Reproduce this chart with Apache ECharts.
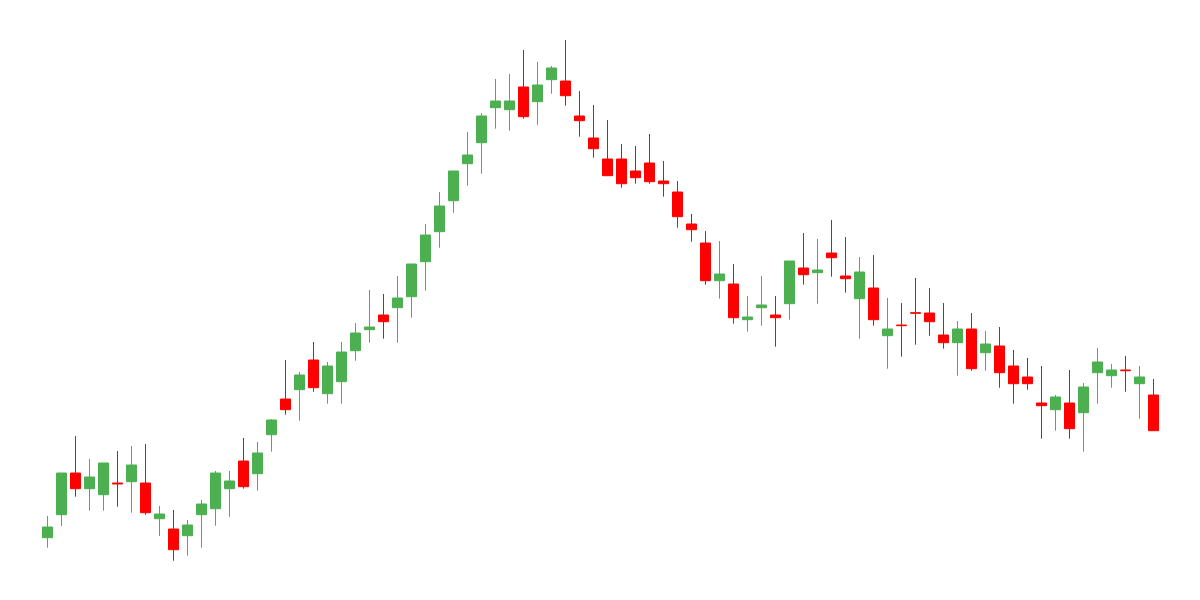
<!DOCTYPE html>
<html>
<head>
<meta charset="utf-8">
<style>html,body{margin:0;padding:0;background:#fff;}#chart{width:1200px;height:600px;}</style>
<script src="https://cdn.jsdelivr.net/npm/echarts@6/dist/echarts.min.js"></script>
</head>
<body>
<div id="chart"></div>
<script>
// Candle values (arbitrary price units, axes hidden in reference)
const opens = [62.3,85.3,127,111.3,105.3,117,118.3,117,81.3,71,64.3,85.3,91.3,111.3,139,126.3,165.3,201,210.3,240,206.3,218.3,249.3,270.3,285,292.3,303.3,338.3,368.3,399.3,436.3,457.3,492.3,490.3,513,498.3,520.3,519,484,462,441,441,429,437,419,408,376,357,319.3,316,280.3,292.3,285,296.3,332,327.3,347,324,301.3,312,264.3,275,287.3,287,265,257.3,271,247.3,254,234,223,197,190.3,197,187.3,227.3,224.3,230,216.3,205];
const closes = [73,127,111.3,123,137,116,135,87.3,86,50.3,75,96,127,119,113.3,147,180,190.3,225,212.3,234,248,267,273,278.3,302,336,365,394,429,445,484,499,499,483.3,515,532,504.3,479.3,451.3,424.3,416.3,422.3,418.3,416.3,383.3,370.3,319.3,326,282.3,283,295,282.3,339,325.3,330,342.3,321.3,328,280.3,271,274.3,286.7,278.3,257.3,271,231.3,256,227.3,216.3,216.3,194.3,203,171.3,213,238,230,229.3,223,169.3];
const lows = [52.3,74,103.3,89.3,89.3,93.3,87.3,85.3,64,39.3,44.3,52.3,74.3,83.3,111.3,109.3,148.3,185.3,179.3,208.3,196.3,196.3,239.3,257.3,261.3,257.3,282.3,309.3,352.3,387.3,414.3,426.3,471.3,469.3,481.3,475.3,506.3,494.3,463.3,442.3,424.3,412.3,416.3,416.3,403.3,372.3,358.3,315.3,301.3,276.3,268.3,274.3,253.3,280.3,315.3,296.3,323.3,307.3,261.3,274.3,231.3,243.3,255.3,264.3,251.3,224.3,229.3,229.3,212.3,196.3,210.3,161.3,169.3,161.3,148.3,196.3,212.3,208.3,181.3,169.3];
const highs = [84,127,164,141,137,149,154,156,94,90,80,100,129,129,162,158,181,240,228,258,238,258,277,310,306,324,336,376,408,429,468,487,521,526,550,538,534,560,509,495,480,456,454,466,439,419,386,369,359,336,304,324,304,339,367,361,380,363,343,345,302,297,322,312,297,279,287,269,273,250,242,234,205,230,217,252,236,244,234,221];
const categories = opens.map((_, i) => 'D' + (i + 1));

const candleData = opens.map((o, i) => [o, closes[i], lows[i], highs[i]]);

const chart = echarts.init(document.getElementById('chart'), null, {renderer: 'canvas'});
chart.setOption({
  animation: false,
  backgroundColor: '#ffffff',
  grid: {left: 40.5, right: 39.5, top: 0, bottom: 0},
  xAxis: {type: 'category', data: categories, show: false, boundaryGap: true},
  yAxis: {type: 'value', min: 0, max: 600, show: false},
  series: [{
    type: 'candlestick',
    data: candleData,
    barWidth: 10,
    itemStyle: {
      color: '#4CAF50',
      color0: '#FF0000',
      borderColor: '#4CAF50',
      borderColor0: '#FF0000',
      borderWidth: 1
    }
  }]
});
</script>
</body>
</html>
